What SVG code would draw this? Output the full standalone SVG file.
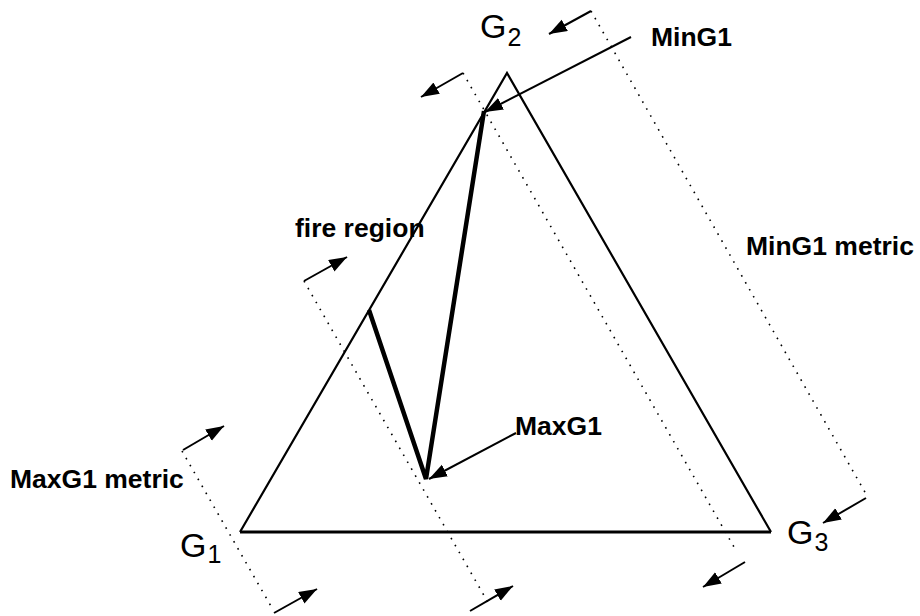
<svg xmlns="http://www.w3.org/2000/svg" width="920" height="616" viewBox="0 0 920 616">
<style>
.lbl{font-family:"Liberation Sans",Arial,sans-serif;font-weight:bold;font-size:26.5px;fill:#000}
.vtx{font-family:"Liberation Sans",Arial,sans-serif;font-size:34px;fill:#000}
.sub{font-size:25px}
.dot{fill:none;stroke:#000;stroke-width:1.6;stroke-dasharray:1.6 6.4}
.arr{fill:none;stroke:#000;stroke-width:2;marker-end:url(#ah)}
.edge{fill:none;stroke:#000;stroke-width:2.2}
.thick{fill:none;stroke:#000;stroke-width:4.5;stroke-linejoin:miter}
</style>
<defs>
<marker id="ah" markerUnits="userSpaceOnUse" markerWidth="20" markerHeight="14" refX="18" refY="6.5" orient="auto">
<path d="M0,0 L18,6.5 L0,13 Z" fill="#000"/>
</marker>
</defs>
<rect width="920" height="616" fill="#fff"/>
<g id="triangle">
<path class="edge" d="M240,532 L507,73 L771,532"/>
<path d="M240,532 L771,532" fill="none" stroke="#000" stroke-width="3"/>
</g>
<g id="fire-path">
<path class="thick" d="M369,310 L426,479 L484,111"/>
</g>
<g id="G1"><text class="vtx" x="180" y="557">G<tspan class="sub" dx="1" dy="6">1</tspan></text></g>
<g id="G2"><text class="vtx" x="480" y="38">G<tspan class="sub" dx="1" dy="8">2</tspan></text></g>
<g id="G3"><text class="vtx" x="787" y="544">G<tspan class="sub" dx="1" dy="7">3</tspan></text></g>
<g id="MinG1"><text class="lbl" x="651" y="46">MinG1</text></g>
<g id="MinG1-metric"><text class="lbl" x="746" y="255">MinG1 metric</text></g>
<g id="fire-region"><text class="lbl" x="295" y="237">fire region</text></g>
<g id="MaxG1"><text class="lbl" x="515" y="435">MaxG1</text></g>
<g id="MaxG1-metric"><text class="lbl" x="10" y="488">MaxG1 metric</text></g>
<g id="connectors">
<path class="dot" d="M182,451 L272,608"/>
<path class="dot" d="M304,281 L490,606"/>
<path class="dot" d="M463,73 L734,547"/>
<path class="dot" d="M591,11 L866,494"/>
<path class="arr" d="M183,450 L224,426"/>
<path class="arr" d="M274,613 L317,589"/>
<path class="arr" d="M304,281 L347,257"/>
<path class="arr" d="M470,611 L513,586"/>
<path class="arr" d="M463,73 L421,97"/>
<path class="arr" d="M745,562 L703,587"/>
<path class="arr" d="M591,11 L549,34"/>
<path class="arr" d="M866,498 L823,523"/>
<path class="arr" d="M631,37 L485,112"/>
<path class="arr" d="M516,433 L429,479"/>
</g>
</svg>
